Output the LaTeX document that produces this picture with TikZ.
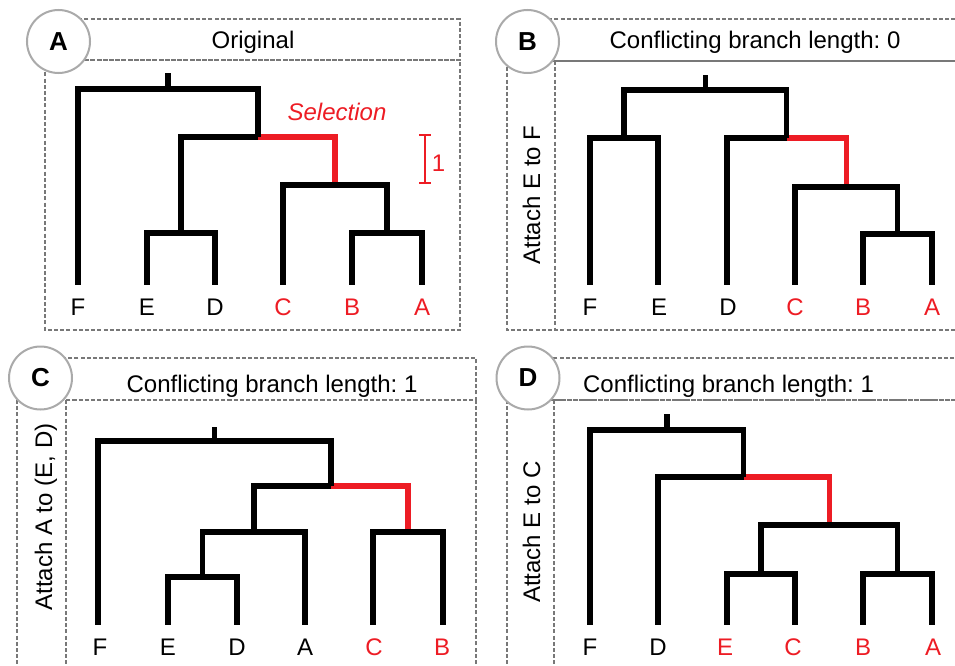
\documentclass[tikz,border=0pt]{standalone}
\usepackage{fontspec}
\setmainfont{Liberation Sans}
\frenchspacing
\definecolor{selred}{RGB}{237,28,36}
\definecolor{framegray}{RGB}{120,120,120}
\definecolor{badgegray}{RGB}{170,170,170}
\tikzset{
  tree/.style={draw=black, line width=5.6pt, line join=miter},
  seltree/.style={draw=selred, line width=5.6pt, line join=miter},
  frame/.style={draw=framegray, line width=2pt, dash pattern=on 4pt off 2.2pt},
  badge/.style={circle, draw=badgegray, line width=2pt, fill=white, minimum size=63pt, inner sep=0pt, font=\fontsize{26}{30}\selectfont\bfseries},
  lab/.style={anchor=base, inner sep=0pt, font=\fontsize{24}{28}\selectfont\frenchspacing},
  redlab/.style={lab, text=selred},
  sidelab/.style={anchor=base, rotate=90, inner sep=0pt, font=\fontsize{24}{28}\selectfont\frenchspacing},
}
\begin{document}
\begin{tikzpicture}[x=1pt, y=-1pt]
\useasboundingbox (0,0) rectangle (955,666);
\begin{scope}
\clip (0,0) rectangle (955,666);
% ---------- frames ----------
\draw[frame] (58,19) rectangle (460,60);
\draw[frame] (45,60) rectangle (460,330);
\draw[frame] (527,19) rectangle (975,61);
\draw[frame] (507,61) rectangle (975,330);
\draw[frame] (555,61) -- (555,330);
\draw[frame] (40,358) rectangle (476,400);
\draw[frame] (17,400) rectangle (476,690);
\draw[frame] (66,400) -- (66,690);
\draw[frame] (528,358) rectangle (975,400);
\draw[frame] (507,400) rectangle (975,690);
\draw[frame] (554,400) -- (554,690);
% ---------- badges ----------
\node[badge] (bgA) at (58.5,41.5) {A};
\node[badge] (bgB) at (527.5,41.5) {B};
\node[badge] (bgC) at (40.5,378) {C};
\node[badge] (bgD) at (528,378) {D};
% ---------- headers ----------
\node[lab] (hA) at (253,49) {Original};
\node[lab] (hB) at (755,49) {Conflicting branch length: 0};
\node[lab] (hC) at (272,392) {Conflicting branch length: 1};
\node[lab] (hD) at (728.5,392) {Conflicting branch length: 1};
\node[sidelab] (sB) at (540,195) {Attach E to F};
\node[sidelab] (sC) at (52,517) {Attach A to (E, D)};
\node[sidelab] (sD) at (540,532) {Attach E to C};
% ---------- panel A ----------
\coordinate (aF) at (78,285);  \coordinate (aE) at (147,285);
\coordinate (aD) at (215,285); \coordinate (aC) at (283,285);
\coordinate (aB) at (352,285); \coordinate (aA) at (422,285);
\coordinate (aED) at (181,233); \coordinate (aBA) at (387,233);
\coordinate (aCBA) at (335,185); \coordinate (aX) at (258,137);
\coordinate (aR) at (168,89); \coordinate (aRt) at (168,73);
\draw[seltree] (aX) -| (aCBA);
\foreach \p/\c in {aR/aF, aR/aX, aX/aED, aED/aE, aED/aD, aCBA/aC, aCBA/aBA, aBA/aB, aBA/aA}
  \draw[tree] (\p) -| (\c);
\draw[tree] (aR) -- (aRt);
\node[lab] (laF) at (78,315) {F};
\node[lab] (laE) at (147,315) {E};
\node[lab] (laD) at (215,315) {D};
\node[redlab] (laC) at (283,315) {C};
\node[redlab] (laB) at (352,315) {B};
\node[redlab] (laA) at (422,315) {A};
\node[redlab, font=\fontsize{24}{28}\selectfont\itshape] (sel) at (337,121) {Selection};
\coordinate (sbT) at (425,135); \coordinate (sbB) at (425,183);
\draw[selred, line width=2.6pt] (sbT) -- (sbB);
\draw[selred, line width=2.6pt] ([xshift=-6pt]sbT) -- ([xshift=6pt]sbT);
\draw[selred, line width=2.6pt] ([xshift=-6pt]sbB) -- ([xshift=6pt]sbB);
\node[redlab] (one) at (438.5,171) {1};
% ---------- panel B ----------
\coordinate (bF) at (590,285);  \coordinate (bE) at (658,285);
\coordinate (bD) at (727,285);  \coordinate (bC) at (795,285);
\coordinate (bB) at (863,285);  \coordinate (bA) at (932,285);
\coordinate (bFE) at (624,138); \coordinate (bBA) at (897.5,234);
\coordinate (bCBA) at (846.3,187); \coordinate (bX) at (786.6,138);
\coordinate (bR) at (705.3,90); \coordinate (bRt) at (705.3,75);
\draw[seltree] (bX) -| (bCBA);
\foreach \p/\c in {bR/bFE, bR/bX, bFE/bF, bFE/bE, bX/bD, bCBA/bC, bCBA/bBA, bBA/bB, bBA/bA}
  \draw[tree] (\p) -| (\c);
\draw[tree] (bR) -- (bRt);
\node[lab] (lbF) at (590,315) {F};
\node[lab] (lbE) at (659,315) {E};
\node[lab] (lbD) at (728,315) {D};
\node[redlab] (lbC) at (795,315) {C};
\node[redlab] (lbB) at (863,315) {B};
\node[redlab] (lbA) at (932,315) {A};
% ---------- panel C ----------
\coordinate (cF) at (98,625);  \coordinate (cE) at (168,625);
\coordinate (cD) at (237,625); \coordinate (cA) at (305,625);
\coordinate (cC) at (373,625); \coordinate (cB) at (443,625);
\coordinate (cED) at (202.5,577); \coordinate (cEDA) at (253.8,532);
\coordinate (cCB) at (408,532); \coordinate (cX) at (330.9,486);
\coordinate (cR) at (214.4,441); \coordinate (cRt) at (214.4,427);
\draw[seltree] (cX) -| (cCB);
\foreach \p/\c in {cR/cF, cR/cX, cX/cEDA, cEDA/cED, cEDA/cA, cED/cE, cED/cD, cCB/cC, cCB/cB}
  \draw[tree] (\p) -| (\c);
\draw[tree] (cR) -- (cRt);
\node[lab] (lcF) at (100,655) {F};
\node[lab] (lcE) at (168,655) {E};
\node[lab] (lcD) at (237,655) {D};
\node[lab] (lcA) at (305,655) {A};
\node[redlab] (lcC) at (374,655) {C};
\node[redlab] (lcB) at (442,655) {B};
% ---------- panel D ----------
\coordinate (dF) at (590,625);  \coordinate (dD) at (658,625);
\coordinate (dE) at (727,625);  \coordinate (dC) at (795,625);
\coordinate (dB) at (863,625);  \coordinate (dA) at (932,625);
\coordinate (dEC) at (761,574); \coordinate (dBA) at (897.5,574);
\coordinate (dY) at (829.3,525); \coordinate (dX) at (743.6,477);
\coordinate (dR) at (666.8,430); \coordinate (dRt) at (666.8,414);
\draw[seltree] (dX) -| (dY);
\foreach \p/\c in {dR/dF, dR/dX, dX/dD, dY/dEC, dY/dBA, dEC/dE, dEC/dC, dBA/dB, dBA/dA}
  \draw[tree] (\p) -| (\c);
\draw[tree] (dR) -- (dRt);
\node[lab] (ldF) at (590,655) {F};
\node[lab] (ldD) at (658,655) {D};
\node[redlab] (ldE) at (725,655) {E};
\node[redlab] (ldC) at (793,655) {C};
\node[redlab] (ldB) at (863,655) {B};
\node[redlab] (ldA) at (933,655) {A};
\end{scope}
\end{tikzpicture}
\end{document}
